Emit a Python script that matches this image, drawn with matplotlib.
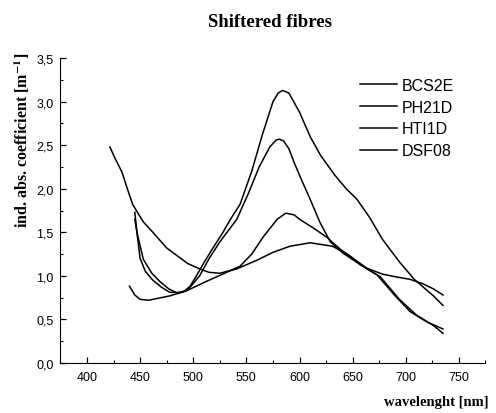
import matplotlib
matplotlib.use("Agg")
import matplotlib.pyplot as plt
from matplotlib.ticker import FuncFormatter, MultipleLocator

# (wavelength in nm, ind. abs. coefficient in 1/m)
bcs2e_x = [445, 447, 450, 455, 462, 470, 478, 490, 497, 503, 510, 518, 527, 535, 544,
           555, 565, 575, 580, 584, 590, 600, 610, 620, 633, 644, 654, 666, 678, 694,
           708, 726, 735]
bcs2e_y = [1.73, 1.50, 1.20, 1.05, 0.95, 0.87, 0.81, 0.81, 0.88, 1.00, 1.15, 1.31, 1.48,
           1.65, 1.82, 2.20, 2.62, 3.00, 3.10, 3.13, 3.10, 2.88, 2.60, 2.38, 2.16, 2.00,
           1.88, 1.67, 1.42, 1.16, 0.96, 0.77, 0.66]

ph21d_x = [445, 447, 453, 461, 469, 477, 485, 495, 506, 515, 525, 541, 552, 562, 572,
           578, 581, 585, 590, 595, 602, 610, 619, 629, 641, 657, 673, 690, 704, 720, 735]
ph21d_y = [1.65, 1.50, 1.19, 1.03, 0.93, 0.85, 0.80, 0.84, 1.00, 1.20, 1.39, 1.65, 1.95,
           2.25, 2.48, 2.56, 2.57, 2.55, 2.46, 2.30, 2.10, 1.88, 1.62, 1.39, 1.26, 1.13,
           1.01, 0.77, 0.59, 0.47, 0.39]

hti1d_x = [440, 445, 450, 458, 466, 478, 494, 513, 535, 544, 555, 566, 579, 587, 595,
           600, 613, 626, 638, 657, 676, 694, 710, 726, 735]
hti1d_y = [0.88, 0.78, 0.73, 0.72, 0.74, 0.77, 0.83, 0.94, 1.06, 1.11, 1.25, 1.45, 1.65,
           1.72, 1.70, 1.65, 1.55, 1.44, 1.31, 1.13, 0.99, 0.73, 0.55, 0.43, 0.34]

dsf08_x = [421.6, 426, 433, 438, 443, 453, 462, 475, 485, 495, 506, 515, 525, 541, 560,
           575, 591, 610, 631, 645, 663, 678, 690, 704, 716, 726, 735]
dsf08_y = [2.48, 2.36, 2.19, 2.00, 1.82, 1.62, 1.50, 1.32, 1.23, 1.14, 1.08, 1.04, 1.03,
           1.08, 1.18, 1.27, 1.34, 1.38, 1.34, 1.25, 1.09, 1.02, 0.99, 0.96, 0.91, 0.85,
           0.78]

names = ["BCS2E", "PH21D", "HTI1D", "DSF08"]
xs = [bcs2e_x, ph21d_x, hti1d_x, dsf08_x]
ys = [bcs2e_y, ph21d_y, hti1d_y, dsf08_y]

x_ticks = [400, 450, 500, 550, 600, 650, 700, 750]

plt.rcParams["mathtext.fontset"] = "stix"

fig = plt.figure(figsize=(4.96, 4.14), dpi=100)
ax = fig.add_axes([0.1218, 0.121, 0.857, 0.736])

for x, y, n in zip(xs, ys, names):
    ax.plot(x, y, color="black", linewidth=1.1, label=n)

ax.set_xlim(375, 775)
ax.set_ylim(0, 3.5)
ax.set_xticks(x_ticks)
ax.xaxis.set_minor_locator(MultipleLocator(25))
ax.yaxis.set_major_locator(MultipleLocator(0.5))
ax.yaxis.set_minor_locator(MultipleLocator(0.25))
ax.yaxis.set_major_formatter(FuncFormatter(lambda v, p: f"{v:.1f}".replace(".", ",")))

for s in ["top", "right"]:
    ax.spines[s].set_visible(False)
ax.tick_params(which="major", direction="in", length=4, width=0.9, labelsize=9)
ax.tick_params(axis="x", which="major", pad=6)
ax.tick_params(axis="y", which="major", pad=5)
ax.tick_params(which="minor", direction="in", length=2.5, width=0.8)
for lab in ax.get_xticklabels() + ax.get_yticklabels():
    lab.set_family("Liberation Sans")

fig.text(0.545, 0.945, "Shiftered fibres", ha="center", va="center",
         family="Liberation Serif", weight="bold", fontsize=13.5)
fig.text(0.045, 0.66, "ind. abs. coefficient [m$^{\\mathbf{-1}}$]", rotation=90,
         ha="center", va="center", family="Liberation Serif", weight="bold",
         fontsize=11.5)
fig.text(0.985, 0.027, "wavelenght [nm]", ha="right", va="center",
         family="Liberation Serif", weight="bold", fontsize=10.5)

leg = ax.legend(loc="upper left", bbox_to_anchor=(0.726, 0.809),
                bbox_transform=fig.transFigure, frameon=False,
                handlelength=2.3, handletextpad=0.3, labelspacing=0.42,
                borderpad=0, borderaxespad=0,
                prop={"family": "Liberation Sans", "size": 11.5})

fig.savefig("out.png", dpi=100)
